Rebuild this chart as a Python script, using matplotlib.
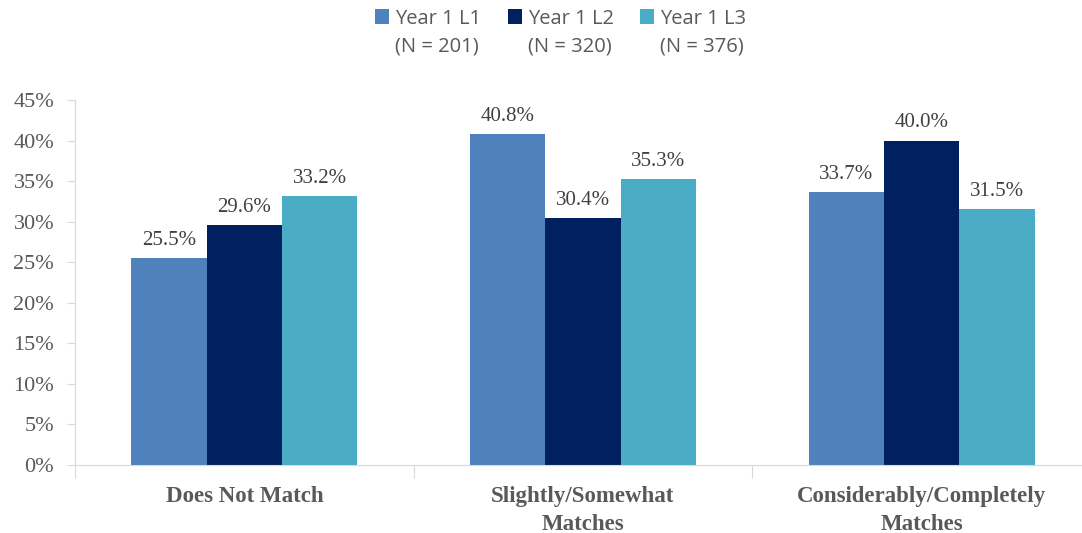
import numpy as np
import matplotlib.pyplot as plt

categories = ['Does Not Match', 'Slightly/Somewhat\nMatches', 'Considerably/Completely\nMatches']
series = ['Year 1 L1\n(N = 201)', 'Year 1 L2\n(N = 320)', 'Year 1 L3\n(N = 376)']
l1 = [25.5, 40.8, 33.7]
l2 = [29.6, 30.4, 40.0]
l3 = [33.2, 35.3, 31.5]
colors = ['#4F81BD', '#002060', '#4BACC6']

gray = '#595959'
fig = plt.figure(figsize=(10.82, 5.33), dpi=100)
ax = fig.add_axes([0.0693, 0.1276, 0.939, 0.6848])

x = np.arange(len(categories))
w = 1 / 4.5
for i, (vals, c, lab) in enumerate(zip([l1, l2, l3], colors, series)):
    bars = ax.bar(x + (i - 1) * w, vals, w, color=c, label=lab)
    for b, v in zip(bars, vals):
        ax.text(b.get_x() + b.get_width() / 2, v + 1.0, f'{v:.1f}%',
                ha='center', va='bottom', fontsize=15,
                family='Liberation Serif', color='#404040')

ax.set_xlim(-0.5, 2.5)
ax.set_ylim(0, 45)
ax.set_yticks(np.arange(0, 46, 5))
ax.set_yticklabels([f'{t}%' for t in range(0, 46, 5)], family='Liberation Serif',
                   fontsize=16, color=gray)
ax.tick_params(axis='y', length=6, color='#D9D9D9', pad=9)

ax.set_xticks([-0.5, 0.5, 1.5, 2.5])
ax.set_xticklabels([])
ax.tick_params(axis='x', which='major', length=9, color='#D9D9D9')
ax.set_xticks(x, minor=True)
ax.set_xticklabels(categories, minor=True, family='Liberation Serif', fontsize=16.5,
                   fontweight='bold', color=gray, linespacing=1.45)
ax.tick_params(axis='x', which='minor', length=0, pad=15)

for s in ['top', 'right']:
    ax.spines[s].set_visible(False)
for s in ['left', 'bottom']:
    ax.spines[s].set_color('#D9D9D9')

leg = ax.legend(loc='upper center', bbox_to_anchor=(0.478, 1.30), ncol=3, frameon=False,
                prop={'family': 'Open Sans', 'size': 14.5}, handlelength=0.7,
                handleheight=0.7, handletextpad=0.3, columnspacing=1.3)
for t in leg.get_texts():
    t.set_color(gray)
    t.set_linespacing(1.55)
for h in leg.legend_handles:
    h.set_y(h.get_y() + 12)

fig.savefig('out.png', dpi=100)
